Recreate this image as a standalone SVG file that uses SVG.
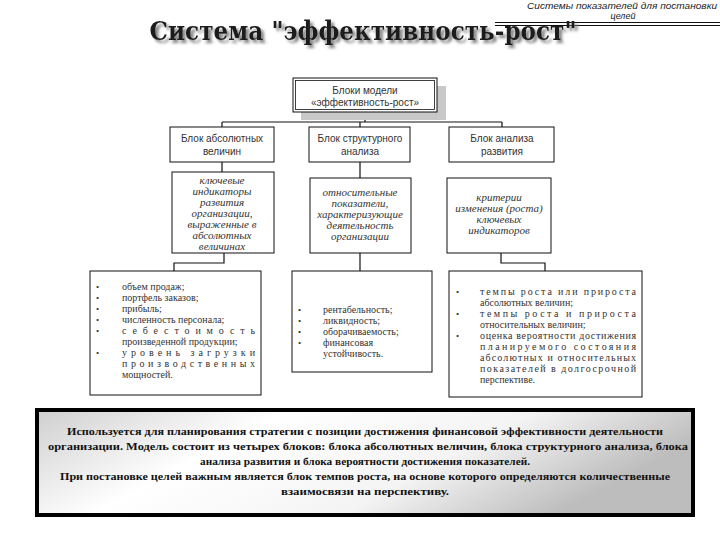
<svg xmlns="http://www.w3.org/2000/svg" width="720" height="540" viewBox="0 0 720 540">
<defs>
  <filter id="tshadow" x="-5%" y="-30%" width="112%" height="170%">
    <feGaussianBlur in="SourceAlpha" stdDeviation="1.5" result="b"/>
    <feOffset in="b" dx="3" dy="3" result="o"/>
    <feFlood flood-color="#808080" result="c"/>
    <feComposite in="c" in2="o" operator="in" result="s"/>
    <feMerge><feMergeNode in="s"/><feMergeNode in="SourceGraphic"/></feMerge>
  </filter>
  <linearGradient id="bg" x1="0" y1="0" x2="1" y2="0.3">
    <stop offset="0" stop-color="#cfcfcf"/>
    <stop offset="0.35" stop-color="#ffffff"/>
    <stop offset="0.7" stop-color="#f4f4f4"/>
    <stop offset="1" stop-color="#bdbdbd"/>
  </linearGradient>
  <style>
    .box{fill:#fff;stroke:#111;stroke-width:1}
    .shadow{fill:#c8c8c8}
    .ln{fill:none;stroke:#111;stroke-width:1.2}
    .hdr{font-family:"Liberation Sans",Arial,sans-serif;font-style:italic;font-size:9px;fill:#222;text-anchor:middle}
    .sans{font-family:"Liberation Sans",Arial,sans-serif;font-size:10px;fill:#333;text-anchor:middle}
    .it{font-family:"Liberation Serif","Times New Roman",serif;font-style:italic;font-size:11px;fill:#333;text-anchor:middle}
    .li{font-family:"Liberation Serif","Times New Roman",serif;font-size:10px;fill:#333}
    .bul{font-family:"Liberation Serif",serif;font-size:9px;fill:#333}
    .note{font-family:"Liberation Serif","Times New Roman",serif;font-weight:bold;font-size:11px;fill:#111;text-anchor:middle}
  </style>
</defs>
<rect width="720" height="540" fill="#fff"/>

<g id="header">
  <text class="hdr"><tspan x="622" y="8.5" textLength="190" lengthAdjust="spacingAndGlyphs">Системы показателей для постановки</tspan><tspan x="623" y="19">целей</tspan></text>
  <line x1="495" y1="22.5" x2="720" y2="22.5" stroke="#111" stroke-width="1.2"/>
  <line x1="495" y1="25.5" x2="720" y2="25.5" stroke="#111" stroke-width="1.2"/>
</g>

<g id="title">
  <text x="363" y="40" font-family="DejaVu Serif, Liberation Serif, serif" font-weight="bold" font-size="26" fill="#1a1a1a" text-anchor="middle" textLength="427" lengthAdjust="spacingAndGlyphs" filter="url(#tshadow)">Система "эффективность-рост"</text>
</g>

<g id="connectors">
  <path class="ln" d="M365 112V122M222 122H502M222 122V127M360 122V127M502 122V127"/>
  <path class="ln" d="M222 162V172M360 162V178"/>
  <path class="ln" d="M224 253V263H174V271"/>
  <path class="ln" d="M360 253V271"/>
  <path class="ln" d="M501 253V263H545V271"/>
</g>

<g id="root">
  <rect class="shadow" x="301" y="86" width="145" height="34"/>
  <rect class="box" x="293" y="78" width="144" height="34"/>
  <rect x="295.5" y="80.5" width="139" height="29" fill="none" stroke="#111" stroke-width="0.8"/>
  <text class="sans" x="365" y="94">Блоки модели</text>
  <text class="sans" x="365" y="106">«эффективность-рост»</text>
</g>

<g id="block1">
  <rect class="box" x="170" y="127" width="104" height="35"/>
  <text class="sans" x="222" y="142">Блок абсолютных</text>
  <text class="sans" x="222" y="155">величин</text>
</g>
<g id="block2">
  <rect class="box" x="309" y="127" width="101" height="35"/>
  <text class="sans" x="360" y="142">Блок структурного</text>
  <text class="sans" x="360" y="155">анализа</text>
</g>
<g id="block3">
  <rect class="box" x="449" y="127" width="105" height="35"/>
  <text class="sans" x="502" y="142">Блок анализа</text>
  <text class="sans" x="502" y="155">развития</text>
</g>

<g id="desc1">
  <rect class="box" x="172" y="172" width="102" height="81"/>
  <text class="it" x="222" y="184">ключевые</text>
  <text class="it" x="222" y="195">индикаторы</text>
  <text class="it" x="222" y="206">развития</text>
  <text class="it" x="222" y="217">организации,</text>
  <text class="it" x="222" y="228">выраженные в</text>
  <text class="it" x="222" y="239">абсолютных</text>
  <text class="it" x="222" y="250">величинах</text>
</g>
<g id="desc2">
  <rect class="box" x="310" y="178" width="101" height="75"/>
  <text class="it" x="360" y="196">относительные</text>
  <text class="it" x="360" y="207">показатели,</text>
  <text class="it" x="360" y="218">характеризующие</text>
  <text class="it" x="360" y="229">деятельность</text>
  <text class="it" x="360" y="240">организации</text>
</g>
<g id="desc3">
  <rect class="box" x="447" y="178" width="104" height="75"/>
  <text class="it" x="499" y="201">критерии</text>
  <text class="it" x="499" y="212">изменения (роста)</text>
  <text class="it" x="499" y="223">ключевых</text>
  <text class="it" x="499" y="234">индикаторов</text>
</g>

<g id="list1">
  <rect class="box" x="90" y="271" width="171" height="124"/>
  <text class="bul" x="96" y="290">•</text>
  <text class="bul" x="96" y="301">•</text>
  <text class="bul" x="96" y="312">•</text>
  <text class="bul" x="96" y="323">•</text>
  <text class="bul" x="96" y="334">•</text>
  <text class="bul" x="96" y="356">•</text>
  <text class="li" x="122" y="290">объем продаж;</text>
  <text class="li" x="122" y="301">портфель заказов;</text>
  <text class="li" x="122" y="312">прибыль;</text>
  <text class="li" x="122" y="323">численность персонала;</text>
  <text class="li" x="122" y="334" textLength="133" lengthAdjust="spacing">себестоимость</text>
  <text class="li" x="122" y="345">произведенной продукции;</text>
  <text class="li" x="122" y="356" textLength="133" lengthAdjust="spacing">уровень  загрузки</text>
  <text class="li" x="122" y="367" textLength="133" lengthAdjust="spacing">производственных</text>
  <text class="li" x="122" y="378">мощностей.</text>
</g>

<g id="list2">
  <rect class="box" x="292" y="271" width="140" height="101"/>
  <text class="bul" x="298" y="313">•</text>
  <text class="bul" x="298" y="324">•</text>
  <text class="bul" x="298" y="335">•</text>
  <text class="bul" x="298" y="346">•</text>
  <text class="li" x="323" y="313">рентабельность;</text>
  <text class="li" x="323" y="324">ликвидность;</text>
  <text class="li" x="323" y="335">оборачиваемость;</text>
  <text class="li" x="323" y="346">финансовая</text>
  <text class="li" x="323" y="357">устойчивость.</text>
</g>

<g id="list3">
  <rect class="box" x="449" y="271" width="193" height="126"/>
  <text class="bul" x="456" y="295">•</text>
  <text class="bul" x="456" y="317">•</text>
  <text class="bul" x="456" y="339">•</text>
  <text class="li" x="480" y="295" textLength="156" lengthAdjust="spacing">темпы роста или прироста</text>
  <text class="li" x="480" y="306">абсолютных величин;</text>
  <text class="li" x="480" y="317" textLength="156" lengthAdjust="spacing">темпы роста и прироста</text>
  <text class="li" x="480" y="328">относительных величин;</text>
  <text class="li" x="480" y="339" textLength="156" lengthAdjust="spacing">оценка вероятности достижения</text>
  <text class="li" x="480" y="350" textLength="156" lengthAdjust="spacing">планируемого состояния</text>
  <text class="li" x="480" y="361" textLength="156" lengthAdjust="spacing">абсолютных и относительных</text>
  <text class="li" x="480" y="372" textLength="156" lengthAdjust="spacing">показателей в долгосрочной</text>
  <text class="li" x="480" y="383">перспективе.</text>
</g>

<g id="note">
  <rect x="37" y="410" width="656" height="105" fill="url(#bg)" stroke="#000" stroke-width="4"/>
  <text class="note" x="365" y="435" textLength="596" lengthAdjust="spacingAndGlyphs">Используется для планирования стратегии с позиции достижения финансовой эффективности деятельности</text>
  <text class="note" x="368" y="450" textLength="640" lengthAdjust="spacingAndGlyphs">организации. Модель состоит из четырех блоков: блока  абсолютных величин, блока структурного анализа, блока</text>
  <text class="note" x="365" y="465" textLength="330" lengthAdjust="spacingAndGlyphs">анализа развития и блока вероятности достижения показателей.</text>
  <text class="note" x="365" y="480" textLength="610" lengthAdjust="spacingAndGlyphs">При постановке целей важным является блок темпов роста, на основе которого определяются количественные</text>
  <text class="note" x="365" y="495" textLength="168" lengthAdjust="spacingAndGlyphs">взаимосвязи на перспективу.</text>
</g>
</svg>
